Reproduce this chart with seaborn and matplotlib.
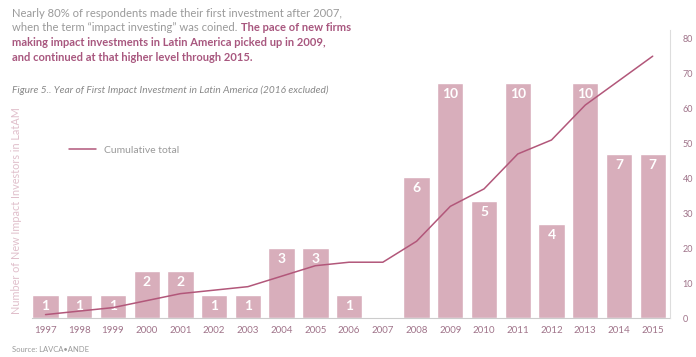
import matplotlib
matplotlib.use("Agg")
import matplotlib.pyplot as plt
import numpy as np
import seaborn as sns

# Year of first impact investment in Latin America (2016 excluded)
years = [str(y) for y in range(1997, 2016)]
new_investors = [1, 1, 1, 2, 2, 1, 1, 3, 3, 1, 0, 6, 10, 5, 10, 4, 10, 7, 7]
cumulative = [1, 2, 3, 5, 7, 8, 9, 12, 15, 16, 16, 22, 32, 37, 47, 51, 61, 68, 75]
right_ticks = [0, 10, 20, 30, 40, 50, 60, 70, 80]

bar_color = "#d8aebb"
line_color = "#b2577a"
tick_color = "#a0748a"
grey = "#9a9a9a"
purple = "#a8577f"

sns.set_theme(style="white")
plt.rcParams["font.family"] = ["Lato", "DejaVu Sans"]

fig = plt.figure(figsize=(6.96, 3.57), dpi=100)
ax = fig.add_axes([0.046, 0.109, 0.917, 0.807])

sns.barplot(x=years, y=new_investors, color=bar_color, saturation=1,
            width=0.78, ax=ax)
ax.set_xlim(-0.4, 18.52)
ax.set_ylim(0, 82.5 / 6.72)
ax.set_yticks([])
ax.set_ylabel("")
ax.tick_params(axis="x", colors=tick_color, labelsize=7, length=0, pad=6)
for s in ["top", "left", "right"]:
    ax.spines[s].set_visible(False)
ax.spines["bottom"].set_color("#cccccc")
ax.spines["bottom"].set_linewidth(0.8)

# value labels inside the bars
for i, v in enumerate(new_investors):
    if v > 0:
        ax.text(i, v - 0.47, str(v), ha="center", va="center", color="white",
                fontsize=10, fontweight="bold")

ax2 = ax.twinx()
sns.lineplot(x=np.arange(len(years)), y=cumulative, color=line_color,
             linewidth=1.1, ax=ax2, label="Cumulative total")
ax2.set_ylim(0, 82.5)
ax2.set_yticks(right_ticks)
ax2.tick_params(axis="y", colors=tick_color, labelsize=6.5, length=0, pad=9)
for s in ["top", "left", "bottom"]:
    ax2.spines[s].set_visible(False)
ax2.spines["right"].set_color("#dddddd")
ax2.spines["right"].set_linewidth(0.8)
ax2.legend(loc="center left", bbox_to_anchor=(0.085, 0.58),
           bbox_transform=fig.transFigure, frameon=False, fontsize=7.5,
           handlelength=2.6, handletextpad=0.8, labelcolor=grey)

fig.text(0.023, 0.41, "Number of New Impact Investors in LatAM", rotation=90,
         ha="center", va="center", color="#e0bfcb", fontsize=7.8)

# header text
fig.text(0.017, 0.963, "Nearly 80% of respondents made their first investment after 2007,",
         color=grey, fontsize=8.1, va="center")
t2 = fig.text(0.017, 0.922, "when the term \u201cimpact investing\u201d was coined.",
              color=grey, fontsize=8.1, va="center")
fig.add_artist(plt.Annotation("The pace of new firms", xy=(1, 0.5), xycoords=t2,
                              xytext=(3, 0), textcoords="offset points",
                              color=purple, fontsize=8, fontweight="bold",
                              va="center"))
fig.text(0.017, 0.881, "making impact investments in Latin America picked up in 2009,",
         color=purple, fontsize=8, fontweight="bold", va="center")
fig.text(0.017, 0.840, "and continued at that higher level through 2015.",
         color=purple, fontsize=8, fontweight="bold", va="center")
fig.text(0.017, 0.748, "Figure 5.. Year of First Impact Investment in Latin America (2016 excluded)",
         color="#888888", fontsize=7.3, style="italic", va="center")
fig.text(0.017, 0.02, "Source: LAVCA\u2022ANDE", color=grey, fontsize=5.5, va="center")

fig.savefig("out.png", dpi=100)
